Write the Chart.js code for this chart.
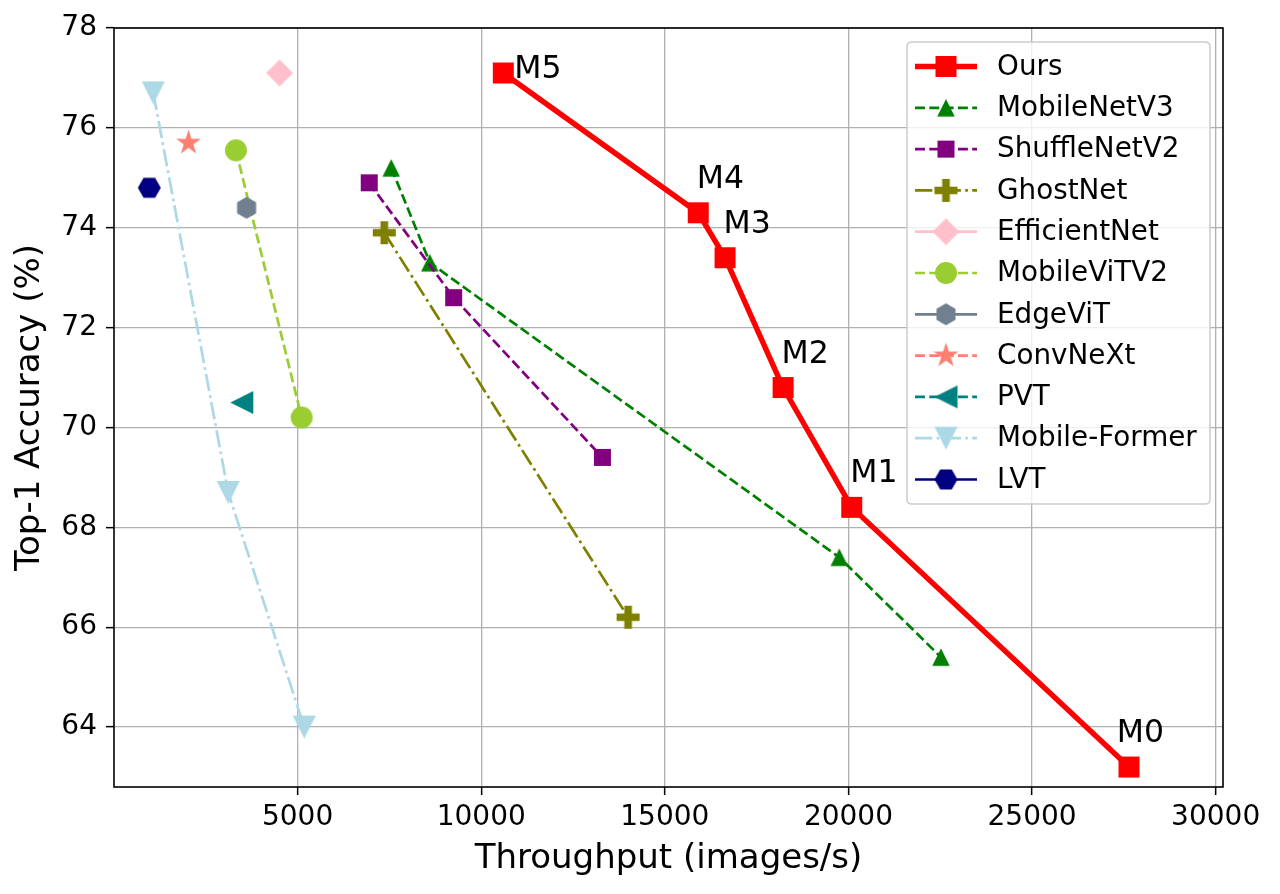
<!DOCTYPE html>
<html>
<head>
<meta charset="utf-8">
<script src="https://cdn.jsdelivr.net/npm/chart.js@4.4.1/dist/chart.umd.min.js"></script>
<style>
html,body{margin:0;padding:0;background:#fff;}
#wrap{width:1280px;height:894px;}
</style>
</head>
<body>
<div id="wrap"><canvas id="c" width="1280" height="894"></canvas></div>
<script>
// ---------------- DATA ----------------
const seriesNames = ['Ours','MobileNetV3','ShuffleNetV2','GhostNet','EfficientNet','MobileViTV2','EdgeViT','ConvNeXt','PVT','Mobile-Former','LVT'];

const oursNames = ['M0','M1','M2','M3','M4','M5'];
const oursX = [27640, 20090, 18220, 16640, 15910, 10600];
const oursY = [63.2, 68.4, 70.8, 73.4, 74.3, 77.1];

const mobilenetv3X = [7550, 8600, 19750, 22520];
const mobilenetv3Y = [75.2, 73.3, 67.4, 65.4];

const shufflenetv2X = [6950, 9250, 13300];
const shufflenetv2Y = [74.9, 72.6, 69.4];

const ghostnetX = [7360, 14000];
const ghostnetY = [73.9, 66.2];

const efficientnetX = [4510];
const efficientnetY = [77.1];

const mobilevitv2X = [3320, 5110];
const mobilevitv2Y = [75.55, 70.2];

const edgevitX = [3610];
const edgevitY = [74.4];

const convnextX = [2030];
const convnextY = [75.7];

const pvtX = [3480];
const pvtY = [70.5];

const mobileformerX = [1070, 3110, 5180];
const mobileformerY = [76.7, 68.7, 64.0];

const lvtX = [960];
const lvtY = [74.8];

const xTickValues = [5000, 10000, 15000, 20000, 25000, 30000];
const yTickValues = [64, 66, 68, 70, 72, 74, 76, 78];

const xTitle = 'Throughput (images/s)';
const yTitle = 'Top-1 Accuracy (%)';

// ---------------- STYLE ----------------
const allX = [oursX, mobilenetv3X, shufflenetv2X, ghostnetX, efficientnetX, mobilevitv2X, edgevitX, convnextX, pvtX, mobileformerX, lvtX];
const allY = [oursY, mobilenetv3Y, shufflenetv2Y, ghostnetY, efficientnetY, mobilevitv2Y, edgevitY, convnextY, pvtY, mobileformerY, lvtY];
const colors = ['#ff0000','#008000','#800080','#808000','#ffc0cb','#9acd32','#708090','#fa8072','#008080','#add8e6','#000080'];
const DASHED = [10, 4.3];
const DASHDOT = [17.3, 4.3, 2.7, 4.3];
const dashes = [[], DASHED, DASHED, DASHDOT, [], DASHED, [], DASHED, DASHED, DASHDOT, []];
const lineWidths = [5.4, 2.7, 2.7, 2.7, 2.7, 2.7, 2.7, 2.7, 2.7, 2.7, 2.7];
const markerShapes = ['square','triUp','square','plus','diamond','circle','hex1','star','triLeft','triDown','hex2'];
const markerSizes = [21, 17.5, 17, 23, 27, 22, 22, 25, 23, 23, 23];
const labelDx = [-330, -40, -40, -40, -40, 300];
const labelDy = [0.5, 0.5, 0.5, 0.5, 0.5, -0.1];
const FONT = "'DejaVu Sans', 'Liberation Sans', sans-serif";

function makeMarker(shape, s, color) {
  const n = Math.ceil(s) + 4;
  const cv = document.createElement('canvas');
  cv.width = n; cv.height = n;
  const c = cv.getContext('2d');
  c.translate(n / 2, n / 2);
  const r = s / 2;
  c.beginPath();
  if (shape === 'square') {
    c.rect(-r, -r, s, s);
  } else if (shape === 'circle') {
    c.arc(0, 0, r, 0, Math.PI * 2);
  } else if (shape === 'triUp') {
    c.moveTo(0, -r); c.lineTo(r, r); c.lineTo(-r, r);
  } else if (shape === 'triDown') {
    c.moveTo(0, r); c.lineTo(r, -r); c.lineTo(-r, -r);
  } else if (shape === 'triLeft') {
    c.moveTo(-r, 0); c.lineTo(r, -r); c.lineTo(r, r);
  } else if (shape === 'diamond') {
    c.moveTo(0, -r); c.lineTo(r, 0); c.lineTo(0, r); c.lineTo(-r, 0);
  } else if (shape === 'plus') {
    const t = s / 6;
    const pts = [[-t,-3*t],[t,-3*t],[t,-t],[3*t,-t],[3*t,t],[t,t],[t,3*t],[-t,3*t],[-t,t],[-3*t,t],[-3*t,-t],[-t,-t]];
    pts.forEach((p, k) => k ? c.lineTo(p[0], p[1]) : c.moveTo(p[0], p[1]));
  } else if (shape === 'hex1' || shape === 'hex2') {
    const a0 = shape === 'hex1' ? -Math.PI / 2 : 0;
    for (let k = 0; k < 6; k++) {
      const a = a0 + k * Math.PI / 3;
      const px = r * Math.cos(a), py = r * Math.sin(a);
      k ? c.lineTo(px, py) : c.moveTo(px, py);
    }
  } else if (shape === 'star') {
    const R = s / 1.902, ri = R * 0.381966;
    for (let k = 0; k < 10; k++) {
      const a = -Math.PI / 2 + k * Math.PI / 5;
      const rr = k % 2 ? ri : R;
      const px = rr * Math.cos(a), py = rr * Math.sin(a);
      k ? c.lineTo(px, py) : c.moveTo(px, py);
    }
  }
  c.closePath();
  c.fillStyle = color;
  c.fill();
  return cv;
}

const markerImgs = markerShapes.map((sh, i) => makeMarker(sh, markerSizes[i], colors[i]));

const datasets = seriesNames.map((name, i) => ({
  label: name,
  data: allX[i].map((x, j) => ({ x: x, y: allY[i][j] })),
  showLine: true,
  borderColor: colors[i],
  backgroundColor: colors[i],
  borderWidth: lineWidths[i],
  borderDash: dashes[i],
  borderJoinStyle: 'round',
  borderCapStyle: 'butt',
  pointStyle: markerImgs[i],
  pointRadius: 10,
  pointHoverRadius: 10,
  tension: 0,
  order: -i
}));

// ---------------- PLUGINS ----------------
const framePlugin = {
  id: 'frame',
  afterDatasetsDraw(chart) {
    const { ctx, chartArea: a } = chart;
    ctx.save();
    ctx.strokeStyle = '#000';
    ctx.lineWidth = 1.6;
    ctx.strokeRect(a.left, a.top, a.right - a.left, a.bottom - a.top);
    ctx.restore();
  }
};

const labelPlugin = {
  id: 'mlabels',
  afterDatasetsDraw(chart) {
    const { ctx } = chart;
    const xs = chart.scales.x, ys = chart.scales.y;
    ctx.save();
    ctx.font = '31.5px ' + FONT;
    ctx.fillStyle = '#000';
    ctx.textAlign = 'left';
    ctx.textBaseline = 'alphabetic';
    oursNames.forEach((n, j) => {
      const px = xs.getPixelForValue(oursX[j] + labelDx[j]);
      const py = ys.getPixelForValue(oursY[j] + labelDy[j]);
      ctx.fillText(n, px, py);
    });
    ctx.restore();
  }
};

const legendPlugin = {
  id: 'mplLegend',
  afterDraw(chart) {
    const { ctx } = chart;
    const L = 907, T = 42, R = 1210, B = 504, rad = 5;
    ctx.save();
    ctx.beginPath();
    ctx.moveTo(L + rad, T);
    ctx.lineTo(R - rad, T); ctx.quadraticCurveTo(R, T, R, T + rad);
    ctx.lineTo(R, B - rad); ctx.quadraticCurveTo(R, B, R - rad, B);
    ctx.lineTo(L + rad, B); ctx.quadraticCurveTo(L, B, L, B - rad);
    ctx.lineTo(L, T + rad); ctx.quadraticCurveTo(L, T, L + rad, T);
    ctx.closePath();
    ctx.fillStyle = 'rgba(255,255,255,0.8)';
    ctx.fill();
    ctx.strokeStyle = '#cccccc';
    ctx.lineWidth = 1.5;
    ctx.stroke();
    chart.data.datasets.forEach((ds, i) => {
      const yRow = 66.5 + i * 41.3;
      ctx.beginPath();
      ctx.setLineDash(ds.borderDash || []);
      ctx.lineDashOffset = 0;
      ctx.strokeStyle = ds.borderColor;
      ctx.lineWidth = ds.borderWidth;
      ctx.lineCap = 'butt';
      ctx.moveTo(915, yRow);
      ctx.lineTo(977, yRow);
      ctx.stroke();
      ctx.setLineDash([]);
      const img = ds.pointStyle;
      ctx.drawImage(img, 946 - img.width / 2, yRow - img.height / 2);
      ctx.font = '27.8px ' + FONT;
      ctx.fillStyle = '#000';
      ctx.textAlign = 'left';
      ctx.textBaseline = 'middle';
      ctx.fillText(ds.label, 997, yRow + 1);
    });
    ctx.restore();
  }
};

// ---------------- CHART ----------------
new Chart(document.getElementById('c'), {
  type: 'scatter',
  data: { datasets: datasets },
  options: {
    responsive: false,
    animation: false,
    events: [],
    layout: { padding: { top: 28, right: 57, bottom: 0, left: 0 } },
    plugins: { legend: { display: false }, tooltip: { enabled: false } },
    scales: {
      x: {
        type: 'linear',
        min: 0,
        max: 30200,
        afterBuildTicks: (s) => { s.ticks = xTickValues.map(v => ({ value: v })); },
        afterFit: (s) => { s.height = 107; },
        ticks: {
          font: { family: FONT, size: 28 },
          color: '#000',
          padding: 6,
          maxRotation: 0,
          autoSkip: false,
          callback: (v) => String(v)
        },
        grid: { color: '#b0b0b0', lineWidth: 1.3, tickColor: '#000', tickLength: 8, tickWidth: 1.5 },
        border: { display: false },
        title: {
          display: true, text: xTitle, color: '#000',
          font: { family: FONT, size: 34 },
          padding: { top: 0, bottom: 14 }
        }
      },
      y: {
        type: 'linear',
        min: 62.8,
        max: 78,
        afterBuildTicks: (s) => { s.ticks = yTickValues.map(v => ({ value: v })); },
        afterFit: (s) => { s.width = 114; },
        ticks: {
          font: { family: FONT, size: 28 },
          color: '#000',
          padding: 9,
          autoSkip: false,
          callback: (v) => String(v)
        },
        grid: { color: '#b0b0b0', lineWidth: 1.3, tickColor: '#000', tickLength: 8, tickWidth: 1.5 },
        border: { display: false },
        title: {
          display: true, text: yTitle, color: '#000',
          font: { family: FONT, size: 34 },
          padding: { top: 9.5, bottom: 0 }
        }
      }
    }
  },
  plugins: [framePlugin, labelPlugin, legendPlugin]
});
</script>
</body>
</html>
